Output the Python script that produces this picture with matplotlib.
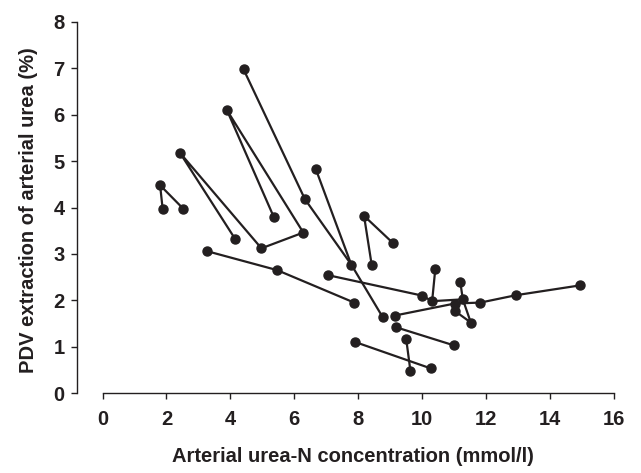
import numpy as np
import matplotlib.pyplot as plt

# arterial urea-N (mmol/l) and PDV extraction (%)
urea_n = [4.41, 3.89, 2.42, 1.80, 1.88, 2.53, 4.14, 4.97, 5.36, 6.28,
          6.67, 6.33, 3.26, 5.46, 7.87, 7.78, 8.18, 9.09, 8.42, 7.06,
          8.76, 9.14, 10.41, 10.00, 10.31, 11.19, 11.27, 11.02, 11.02, 11.52,
          11.82, 12.94, 14.93, 7.90, 10.98, 9.17, 9.50, 9.63, 10.27]
extraction = [6.98, 6.10, 5.18, 4.48, 3.97, 3.97, 3.33, 3.12, 3.79, 3.46,
              4.83, 4.18, 3.06, 2.65, 1.95, 2.77, 3.82, 3.23, 2.76, 2.54,
              1.64, 1.67, 2.68, 2.10, 1.98, 2.40, 2.02, 1.93, 1.77, 1.52,
              1.95, 2.11, 2.32, 1.10, 1.03, 1.42, 1.16, 0.48, 0.53]

# which points are joined by lines (indices into the arrays above)
paths = [
    [4, 3, 5],
    [6, 2, 7, 9, 1, 8],
    [0, 11, 15, 20],
    [10, 15],
    [12, 13, 14],
    [17, 16, 18],
    [19, 23, 24, 22],
    [24, 26],
    [25, 26, 29, 28],
    [21, 27, 30, 31, 32],
    [35, 34],
    [36, 37],
    [33, 38],
]

ink = "#231f20"
plt.rcParams["font.family"] = ["Liberation Sans", "DejaVu Sans"]
plt.rcParams["font.weight"] = "bold"

fig = plt.figure(figsize=(6.41, 4.73), dpi=100)
ax = fig.add_axes([0.1201, 0.1691, 0.8378, 0.7844])

x = np.array(urea_n)
y = np.array(extraction)
for p in paths:
    ax.plot(x[p], y[p], color=ink, lw=1.6, solid_capstyle="round", zorder=2)
ax.plot(x, y, "o", color=ink, ms=6.5, zorder=3)

ax.set_xlim(-0.8, 16)
ax.set_ylim(0, 8)
ax.set_xticks(np.arange(0, 17, 2))
ax.set_yticks(np.arange(0, 9, 1))
ax.spines["top"].set_visible(False)
ax.spines["right"].set_visible(False)
ax.spines["bottom"].set_bounds(0, 16)
for s in ["left", "bottom"]:
    ax.spines[s].set_color(ink)
    ax.spines[s].set_linewidth(1.0)
ax.tick_params(direction="out", length=4, width=1.0, colors=ink, labelsize=14.5)
ax.tick_params(axis="x", pad=8)
ax.tick_params(axis="y", pad=5)
for lab in ax.get_xticklabels() + ax.get_yticklabels():
    lab.set_fontweight("bold")

ax.set_xlabel("Arterial urea-N concentration (mmol/l)", fontsize=14.5,
              fontweight="bold", color=ink)
ax.xaxis.set_label_coords(0.514, -0.145)
ax.set_ylabel("PDV extraction of arterial urea (%)", fontsize=14.5,
              fontweight="bold", color=ink)
ax.yaxis.set_label_coords(-0.091, 0.493)
ax.yaxis.label.set_va("center")

fig.savefig("out.png", dpi=100)
